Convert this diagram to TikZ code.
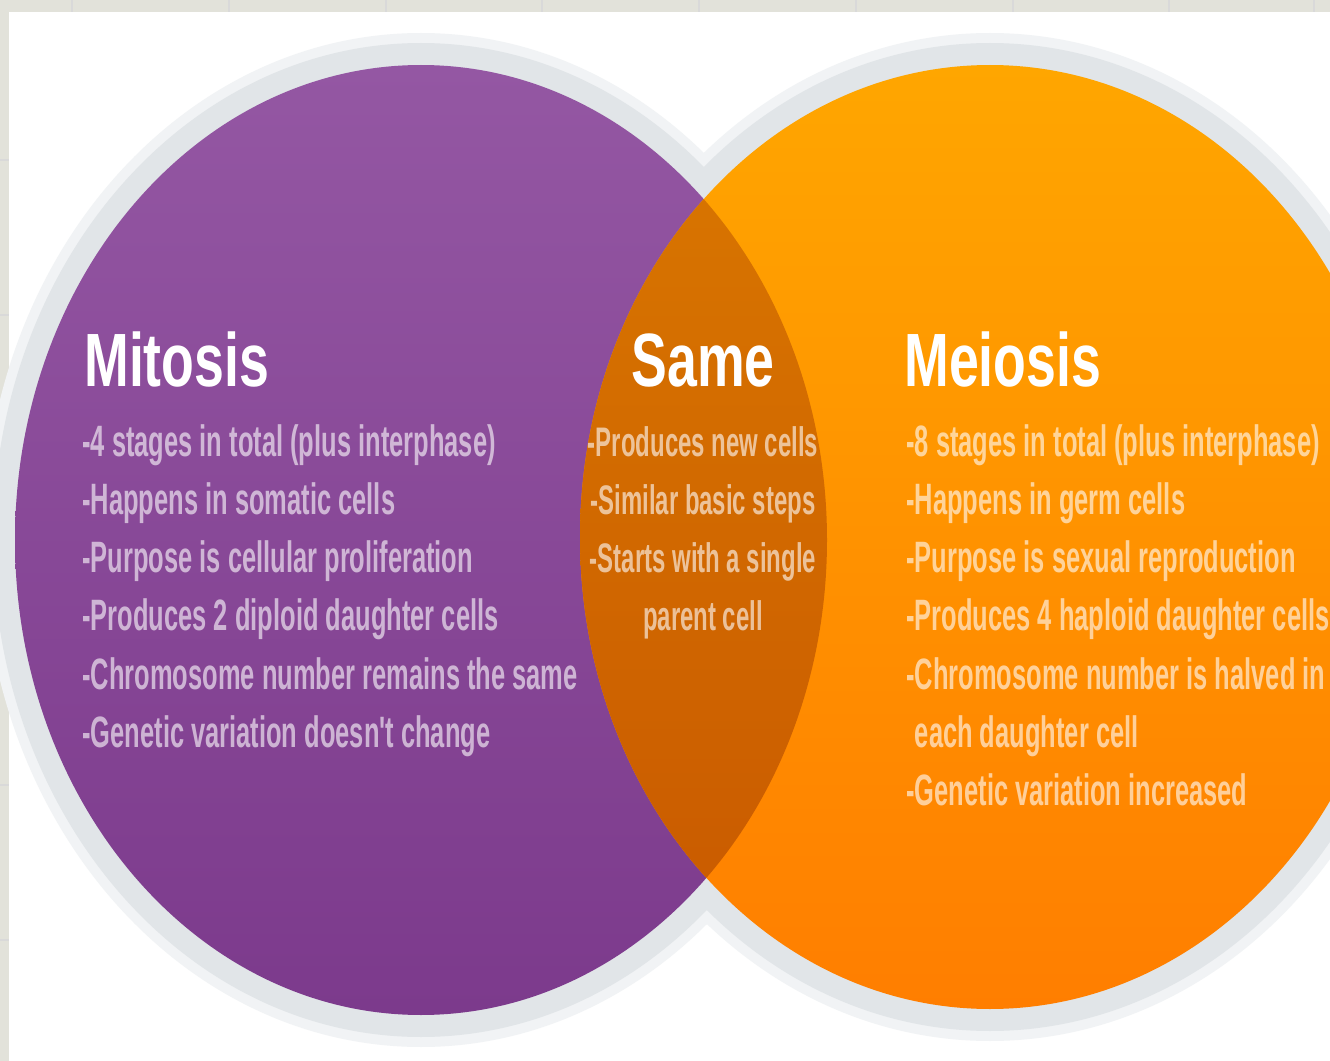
\documentclass[tikz,border=0pt]{standalone}
\usepackage{fontspec}
\usepackage{xcolor}
\usepackage{tikz}
\usetikzlibrary{positioning}
\newfontfamily\headfont[FakeStretch=0.71]{Liberation Sans}
\newfontfamily\listfont[FakeStretch=0.58]{Liberation Sans}
\definecolor{mitpurpletop}{HTML}{9457A3}
\definecolor{mitpurplebot}{HTML}{7C3A8C}
\definecolor{meiorangetop}{HTML}{FFA600}
\definecolor{meiorangebot}{HTML}{FF7E00}
\definecolor{lenstop}{HTML}{DA7800}
\definecolor{lensbot}{HTML}{C85800}
\definecolor{rimgray}{HTML}{E1E5E8}
\definecolor{framegray}{HTML}{E2E2DA}

\begin{document}
\begin{tikzpicture}[x=0.02cm,y=-0.02cm,
  every node/.style={inner sep=0pt,text=white},
  headtext/.style={font=\headfont\bfseries\fontsize{43}{43}\selectfont,anchor=base west},
  itemtext/.style={font=\listfont\bfseries\fontsize{25}{25}\selectfont,anchor=base west,text opacity=0.6},
  sametext/.style={itemtext,font=\listfont\bfseries\fontsize{23.5}{23.5}\selectfont,anchor=base}]
  \useasboundingbox (0,0) rectangle (1330,1061);
  \clip (0,0) rectangle (1330,1061);
  % page and screenshot frame
  \fill[white] (0,0) rectangle (1330,1061);
  \fill[framegray] (0,0) rectangle (1330,12);
  \fill[framegray] (0,0) rectangle (9,1061);
  \foreach \gx in {72,229,386,542,699,856,1013,1169,1314}
    \draw[black!15,line width=0.6pt] (\gx,0) -- (\gx,12);
  \foreach \gy in {160,315,470,625,785,940}
    \draw[black!15,line width=0.6pt] (0,\gy) -- (9,\gy);
  % grey rims
  \fill[rimgray!45] (421,540) ellipse [x radius=438, y radius=507];
  \fill[rimgray!45] (990,537) ellipse [x radius=442, y radius=504];
  \fill[rimgray] (421,540) ellipse [x radius=428, y radius=497];
  \fill[rimgray] (990,537) ellipse [x radius=432, y radius=494];
  % mitosis circle
  \shade[top color=mitpurpletop,bottom color=mitpurplebot]
    (421,540) ellipse [x radius=406, y radius=475];
  % meiosis circle
  \shade[top color=meiorangetop,bottom color=meiorangebot]
    (990,537) ellipse [x radius=410, y radius=472];
  % overlap
  \begin{scope}
    \clip (421,540) ellipse [x radius=406, y radius=475];
    \shade[top color=lenstop,bottom color=lensbot]
      (990,537) ellipse [x radius=410, y radius=472];
  \end{scope}
  % mitosis text
  \node[headtext] (mithead) at (84,386) {Mitosis};
  \foreach \txt [count=\i from 0] in {{-4 stages in total (plus interphase)},
      {-Happens in somatic cells},{-Purpose is cellular proliferation},
      {-Produces 2 diploid daughter cells},{-Chromosome number remains the same},
      {-Genetic variation doesn't change}}
    \node[itemtext] (mit-\i) at (82,456+58.3*\i) {\txt};
  % same text
  \node[headtext,anchor=base] (samehead) at (703,386) {Same};
  \foreach \txt [count=\i from 0] in {{-Produces new cells},{-Similar basic steps},
      {-Starts with a single},{parent cell}}
    \node[sametext] (same-\i) at (703,456+58.3*\i) {\txt};
  % meiosis text
  \node[headtext] (meihead) at (904,386) {Meiosis};
  \foreach \txt [count=\i from 0] in {{-8 stages in total (plus interphase)},
      {-Happens in germ cells},{-Purpose is sexual reproduction},
      {-Produces 4 haploid daughter cells},{-Chromosome number is halved in},
      {\phantom{-}each daughter cell},{-Genetic variation increased}}
    \node[itemtext] (mei-\i) at (906,456+58.3*\i) {\txt};
\end{tikzpicture}
\end{document}
